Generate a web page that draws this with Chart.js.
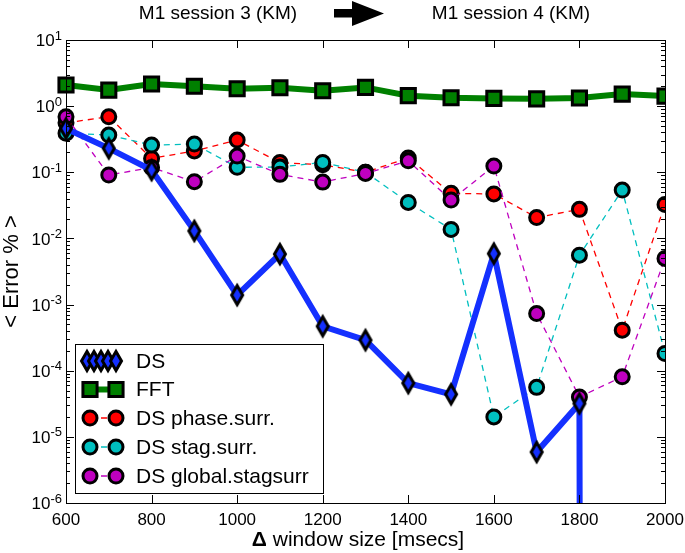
<!DOCTYPE html>
<html>
<head>
<meta charset="utf-8">
<script src="https://cdn.jsdelivr.net/npm/chart.js@4.4.1/dist/chart.umd.min.js"></script>
<style>
  html, body { margin: 0; padding: 0; background: #fff; }
</style>
</head>
<body>
<canvas id="graficoErro" width="685" height="553"></canvas>
<script>
// window size (msecs) and mean error (%) per method
const windowSizes = [600, 700, 800, 900, 1000, 1100, 1200, 1300, 1400, 1500, 1600, 1700, 1800, 1900, 2000];
const errDS = [0.46, 0.23, 0.108, 0.013, 0.00139, 0.0058, 0.00047, 0.00029, 0.000065, 0.000044, 0.0059, 0.0000059, 0.000032, 0, 0];
const errFFT = [2.09, 1.75, 2.16, 2.0, 1.83, 1.9, 1.71, 1.92, 1.44, 1.34, 1.31, 1.29, 1.33, 1.52, 1.42];
const errPhaseSurr = [0.56, 0.69, 0.162, 0.21, 0.307, 0.14, 0.13, 0.1, 0.165, 0.048, 0.047, 0.0207, 0.0275, 0.00041, 0.0327];
const errStagSurr = [0.39, 0.366, 0.258, 0.267, 0.119, 0.12, 0.141, 0.1, 0.035, 0.0137, 0.00002, 0.000056, 0.00558, 0.0538, 0.000182];
const errGlobalStag = [0.69, 0.091, 0.118, 0.072, 0.176, 0.093, 0.071, 0.096, 0.149, 0.038, 0.124, 0.00073, 0.00004, 0.000081, 0.00498];

const xTicks = [600, 800, 1000, 1200, 1400, 1600, 1800, 2000];
const yTickValues = [1e-6, 1e-5, 1e-4, 1e-3, 1e-2, 1e-1, 1, 10];
const yTickExponents = ['-6', '-5', '-4', '-3', '-2', '-1', '0', '1'];
const legendLabels = ['DS', 'FFT', 'DS phase.surr.', 'DS stag.surr.', 'DS global.stagsurr'];

const FONTE = '"Liberation Sans", Arial, Helvetica, sans-serif';
const AZUL = '#1430ff';
const VERDE = '#008000';

// like matplotlib, non positive values are clipped to a tiny number on a log axis
function pontos(valores) {
  return valores.map((v, i) => ({ x: windowSizes[i], y: v > 0 ? v : 1e-300 }));
}

const diamante = (() => {
  const c = document.createElement('canvas');
  c.width = 20; c.height = 32;
  const g = c.getContext('2d');
  g.beginPath();
  g.moveTo(10, 6.5); g.lineTo(15.5, 16); g.lineTo(10, 25.5); g.lineTo(4.5, 16);
  g.closePath();
  g.fillStyle = AZUL; g.fill();
  g.lineWidth = 3; g.strokeStyle = '#000'; g.lineJoin = 'miter'; g.stroke();
  return c;
})();

function serieCirculo(label, valores, cor, ordem) {
  return {
    label, data: pontos(valores), order: ordem,
    borderColor: cor, borderWidth: 1.3, borderDash: [6, 5],
    pointStyle: 'circle', pointRadius: 7, pointBorderWidth: 3,
    pointBorderColor: '#000', pointBackgroundColor: cor
  };
}

const datasets = [
  { label: legendLabels[0], data: pontos(errDS), order: 0,
    borderColor: AZUL, borderWidth: 6,
    pointStyle: diamante, pointRadius: 8, pointBorderWidth: 0 },
  { label: legendLabels[1], data: pontos(errFFT), order: 1,
    borderColor: VERDE, borderWidth: 6,
    pointStyle: 'rect', pointRadius: 10, pointBorderWidth: 3,
    pointBorderColor: '#000', pointBackgroundColor: VERDE },
  serieCirculo(legendLabels[2], errPhaseSurr, '#ff0000', 4),
  serieCirculo(legendLabels[3], errStagSurr, '#00bfbf', 3),
  serieCirculo(legendLabels[4], errGlobalStag, '#bf00bf', 2)
];
datasets.forEach(d => { d.clip = { left: 10, top: 10, right: 0, bottom: 0 }; d.tension = 0; });

const moldura = {
  id: 'moldura',
  afterDatasetsDraw(chart) {
    const { ctx, chartArea: a, scales } = chart;
    ctx.save();
    ctx.strokeStyle = '#000';
    ctx.lineWidth = 1;
    ctx.beginPath();
    xTicks.forEach(v => {
      const x = Math.round(scales.x.getPixelForValue(v)) + 0.5;
      ctx.moveTo(x, a.bottom); ctx.lineTo(x, a.bottom - 8);
      ctx.moveTo(x, a.top); ctx.lineTo(x, a.top + 8);
    });
    for (let e = -6; e <= 1; e++) {
      for (let m = 1; m <= 9; m++) {
        const v = m * Math.pow(10, e);
        if (v > 10.0001) continue;
        const y = Math.round(scales.y.getPixelForValue(v)) + 0.5;
        const len = m === 1 ? 8 : 4;
        ctx.moveTo(a.left, y); ctx.lineTo(a.left + len, y);
        ctx.moveTo(a.right, y); ctx.lineTo(a.right - len, y);
      }
    }
    ctx.stroke();
    ctx.strokeRect(Math.round(a.left) + 0.5, Math.round(a.top) + 0.5,
      Math.round(a.right - a.left), Math.round(a.bottom - a.top));
    ctx.restore();
  },
  afterDraw(chart) {
    const { ctx, chartArea: a, scales } = chart;
    ctx.save();
    ctx.fillStyle = '#000';

    // y tick labels 10^n
    ctx.textAlign = 'right';
    ctx.textBaseline = 'middle';
    yTickValues.forEach((v, i) => {
      const y = scales.y.getPixelForValue(v);
      ctx.font = '13px ' + FONTE;
      const ew = ctx.measureText(yTickExponents[i]).width;
      ctx.fillText(yTickExponents[i], a.left - 4, y - 4);
      ctx.font = '17px ' + FONTE;
      ctx.fillText('10', a.left - 4 - ew, y + 1.5);
    });

    // y title
    ctx.save();
    ctx.translate(12, (a.top + a.bottom) / 2);
    ctx.rotate(-Math.PI / 2);
    ctx.textAlign = 'center';
    ctx.font = '22px ' + FONTE;
    ctx.fillText('< Error % >', 0, 0);
    ctx.restore();

    // x title with bold delta
    ctx.textBaseline = 'middle';
    ctx.textAlign = 'left';
    ctx.font = 'bold 21px ' + FONTE;
    const wDelta = ctx.measureText('Δ').width;
    ctx.font = '21px ' + FONTE;
    const resto = ' window size [msecs]';
    const wResto = ctx.measureText(resto).width;
    const x0 = 358 - (wDelta + wResto) / 2;
    ctx.font = 'bold 21px ' + FONTE;
    ctx.fillText('Δ', x0, 540);
    ctx.font = '21px ' + FONTE;
    ctx.fillText(resto, x0 + wDelta, 540);

    // top title with arrow
    ctx.textAlign = 'center';
    ctx.font = '19px ' + FONTE;
    ctx.fillText('M1 session 3 (KM)', 218, 14);
    ctx.fillText('M1 session 4 (KM)', 511, 14);
    ctx.beginPath();
    ctx.rect(334, 9, 20, 8.5);
    ctx.moveTo(352, 1); ctx.lineTo(384, 13.5); ctx.lineTo(352, 26); ctx.closePath();
    ctx.fill();

    // legend
    const bx = 75, by = 344, bw = 248, bh = 149;
    ctx.fillStyle = '#fff';
    ctx.fillRect(bx, by, bw, bh);
    ctx.strokeStyle = '#000';
    ctx.lineWidth = 1;
    ctx.strokeRect(bx + 0.5, by + 0.5, bw, bh);
    const linhas = [361, 389.5, 418, 447, 476];
    datasets.forEach((d, i) => {
      const y = linhas[i];
      ctx.save();
      ctx.strokeStyle = d.borderColor;
      ctx.lineWidth = d.borderWidth;
      ctx.setLineDash(d.borderDash || []);
      ctx.beginPath(); ctx.moveTo(90, y); ctx.lineTo(116, y); ctx.stroke();
      ctx.setLineDash([]);
      ctx.fillStyle = d.pointBackgroundColor || d.borderColor;
      ctx.strokeStyle = d.pointBorderColor || '#000';
      ctx.lineWidth = d.pointBorderWidth;
      const xs = i === 0 ? [87, 94, 101, 108, 116] : [90, 116];
      xs.forEach(x => Chart.helpers.drawPoint(ctx, {
        pointStyle: d.pointStyle, radius: d.pointRadius, rotation: 0, borderWidth: d.pointBorderWidth
      }, x, y));
      ctx.restore();
      ctx.fillStyle = '#000';
      ctx.textAlign = 'left';
      ctx.textBaseline = 'middle';
      ctx.font = '21px ' + FONTE;
      ctx.fillText(d.label, 136, y + 1);
    });
    ctx.restore();
  }
};

new Chart(document.getElementById('graficoErro'), {
  type: 'line',
  data: { datasets },
  options: {
    responsive: false,
    animation: false,
    devicePixelRatio: 1,
    layout: { padding: { top: 40, right: 20, left: 0, bottom: 0 } },
    plugins: { legend: { display: false }, tooltip: { enabled: false } },
    scales: {
      x: {
        type: 'linear', min: 600, max: 2000,
        grid: { display: false, drawTicks: false },
        border: { display: false },
        ticks: { color: '#000', padding: 7, font: { family: FONTE, size: 17 }, callback: v => String(v) },
        afterBuildTicks: s => { s.ticks = xTicks.map(v => ({ value: v })); },
        afterFit: s => { s.height = 50; s.paddingLeft = 0; s.paddingRight = 0; }
      },
      y: {
        type: 'logarithmic', min: 1e-6, max: 10,
        grid: { display: false, drawTicks: false },
        border: { display: false },
        ticks: { display: false },
        afterBuildTicks: s => { s.ticks = yTickValues.map(v => ({ value: v })); },
        afterFit: s => { s.width = 66; s.paddingTop = 0; s.paddingBottom = 0; }
      }
    }
  },
  plugins: [moldura]
});
</script>
</body>
</html>
